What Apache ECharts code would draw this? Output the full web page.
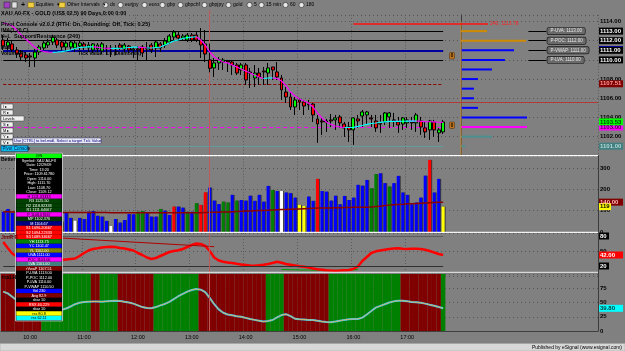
<!DOCTYPE html>
<html><head><meta charset="utf-8">
<script src="https://cdn.jsdelivr.net/npm/echarts@6.0.0/dist/echarts.min.js"></script>
<style>html,body{margin:0;padding:0;background:#808080;}#c{width:625px;height:351px;}</style>
</head><body><div id="c"></div>
<script>
// ---------------- DATA ----------------
const hourLabels = ['10:00','11:00','12:00','13:00','14:00','15:00','16:00','17:00'];
const cursorTime = '13:20';
const openP = [1112.07,1111.45,1111.66,1111.03,1110.72,1110.51,1110.41,1110.20,1110.82,1111.24,
1111.55,1111.86,1112.07,1111.86,1111.34,1111.34,1111.24,1111.45,1111.66,1111.24,
1111.03,1111.14,1110.93,1111.24,1111.14,1111.24,1111.55,1111.14,1111.45,1111.03,
1111.14,1111.34,1111.24,1111.55,1111.24,1111.66,1111.55,1111.86,1112.38,1112.59,
1112.28,1112.07,1112.59,1112.59,1112.07,1111.66,1110.00,1109.16,1109.68,1109.78,
1109.88,1109.78,1109.47,1108.95,1109.47,1108.74,1108.11,1108.63,1108.84,1108.63,
1109.26,1108.74,1108.11,1106.65,1106.13,1105.09,1105.82,1105.61,1105.40,1105.40,
1103.84,1103.63,1103.53,1103.74,1103.74,1104.05,1103.32,1103.01,1102.70,1103.84,
1104.15,1104.26,1103.95,1103.63,1103.43,1103.53,1104.05,1103.74,1103.53,1103.32,
1103.43,1103.53,1103.43,1103.63,1102.91,1102.70,1103.53,1102.39,1102.49];
const closeP = [1111.45,1111.86,1111.03,1110.61,1110.30,1110.20,1110.30,1110.82,1111.34,1111.76,
1111.86,1112.38,1111.55,1111.34,1111.76,1111.86,1111.76,1111.76,1111.34,1111.55,
1111.66,1111.55,1111.66,1111.14,1111.24,1111.14,1111.24,1111.55,1111.03,1111.14,
1111.03,1110.72,1111.14,1111.03,1111.86,1111.24,1111.97,1112.49,1112.90,1112.28,
1112.49,1112.59,1112.07,1112.07,1111.55,1110.61,1109.12,1109.68,1109.99,1109.99,
1109.78,1109.47,1108.63,1109.47,1107.91,1108.63,1108.63,1108.22,1108.74,1109.16,
1108.95,1108.22,1106.86,1106.13,1105.09,1105.82,1105.61,1105.19,1105.30,1104.26,
1103.32,1103.53,1103.63,1103.63,1103.95,1103.43,1102.91,1102.70,1103.95,1103.63,
1104.57,1104.57,1103.84,1102.91,1103.32,1104.47,1104.47,1103.63,1103.22,1103.95,
1103.74,1103.43,1104.26,1103.01,1102.49,1103.63,1102.70,1102.70,1103.53];
const lowP = [1111.03,1111.03,1110.82,1110.20,1109.99,1109.78,1109.26,1109.26,1110.51,1111.03,
1111.24,1111.55,1111.24,1111.03,1110.82,1111.03,1110.82,1111.03,1111.03,1110.82,
1110.72,1110.82,1110.61,1110.51,1110.30,1110.51,1111.03,1110.82,1110.72,1110.20,
1109.99,1110.30,1109.99,1110.72,1110.30,1110.82,1111.24,1111.66,1112.07,1111.97,
1111.97,1111.86,1111.86,1111.86,1110.20,1109.78,1108.70,1108.22,1108.95,1108.95,
1108.74,1108.43,1108.43,1108.43,1107.38,1107.07,1107.17,1107.38,1107.38,1107.38,
1107.91,1107.91,1105.82,1105.51,1104.78,1104.26,1104.78,1104.26,1104.78,1103.53,
1101.35,1102.18,1102.49,1103.01,1102.70,1102.91,1101.97,1101.45,1101.14,1102.91,
1103.01,1103.22,1103.01,1102.49,1102.39,1103.22,1102.91,1103.01,1102.39,1102.70,
1102.91,1102.70,1102.49,1102.18,1101.87,1101.66,1101.97,1101.45,1102.28];
const highP = [1112.59,1112.28,1112.07,1111.34,1111.03,1110.82,1110.72,1111.14,1111.55,1112.07,
1112.18,1112.59,1112.28,1112.07,1112.07,1112.07,1111.97,1112.07,1111.86,1111.86,
1111.76,1111.76,1111.86,1111.55,1111.55,1111.55,1111.76,1111.76,1111.55,1111.34,
1111.45,1111.55,1111.86,1111.76,1111.97,1111.86,1112.28,1112.70,1113.11,1112.90,
1112.70,1112.80,1112.80,1112.90,1113.32,1113.11,1111.70,1110.20,1110.30,1110.20,
1109.99,1109.99,1109.68,1109.68,1109.68,1109.16,1109.47,1109.16,1109.26,1109.68,
1109.26,1109.78,1108.43,1107.17,1106.55,1106.13,1106.03,1105.82,1105.82,1105.51,
1104.26,1103.95,1103.84,1104.36,1104.26,1104.26,1103.53,1103.53,1103.95,1104.26,
1104.78,1104.67,1104.26,1104.26,1104.26,1104.57,1104.57,1104.47,1104.05,1104.05,
1104.05,1104.05,1104.47,1104.05,1103.53,1103.74,1103.74,1102.91,1103.74];
const maLine = [1113.84,1113.74,1113.53,1113.11,1112.59,1112.18,1111.76,1111.34,1111.03,1110.87,
1110.82,1110.79,1110.82,1110.87,1110.93,1111.03,1111.19,1111.29,1111.34,1111.36,
1111.36,1111.32,1111.24,1111.21,1111.19,1111.19,1111.21,1111.24,1111.29,1111.34,
1111.34,1111.29,1111.24,1111.24,1111.29,1111.34,1111.55,1111.76,1111.97,1112.07,
1112.23,1112.33,1112.38,1112.41,1112.07,1111.55,1110.82,1110.30,1109.99,1109.78,
1109.68,1109.47,1109.26,1109.05,1108.84,1108.63,1108.43,1108.22,1108.06,1108.11,
1108.13,1108.06,1107.80,1107.28,1106.65,1106.24,1105.92,1105.72,1105.51,1105.09,
1104.47,1103.94,1103.53,1103.27,1103.11,1103.01,1102.95,1102.95,1102.97,1103.06,
1103.16,1103.27,1103.37,1103.42,1103.48,1103.53,1103.58,1103.60,1103.58,1103.60,
1103.63,1103.61,1103.63,1103.60,1103.57,1103.55,1103.53,1103.50,1103.48];
const pivotLevels = [1113.00, 1112.00, 1111.00, 1110.00];
const pivotNames = ['P-UVA', 'P-POC', 'P-VWAP', 'P-LVA'];
const uvaLevel = 1111.00, vwapLevel = 1107.51, pocLevel = 1103.00, lvaLevel = 1101.00;
const refLevel = 1105.58;
const res240 = 1113.78;
const profilePrices = [1113,1112,1111,1110,1109,1108,1107,1106,1105,1104,1103,1102,1101];
const profileVol = [260,650,530,440,310,170,130,130,170,660,660,310,40];
const profileClass = ['o','o','b','b','b','b','b','b','b','b','m','t','t'];
const volume = [95,108,90,120,85,100,95,130,110,90,
105,80,100,48,89,66,53,66,61,95,
98,76,72,52,28,61,44,56,84,83,
95,98,88,72,72,108,100,80,119,119,
114,95,95,135,127,186,208,147,131,142,
138,174,147,150,147,170,146,174,142,216,
197,192,192,185,182,161,127,122,166,146,
249,192,189,147,170,130,169,150,161,221,
217,244,205,272,275,229,213,229,263,185,
174,130,138,161,264,338,185,249,119];
const volClass = ('bbbbbbbbbbbbb'+'y'+'bb'+'w'+'bbbbbbb'+'w'+'bbbbb'+'gg'+'bbb'+'g'+'bb'+'r'+'bb'+'g'+'b'+'g'+'rr'+'bbb'+'gg'+'b'+'g'+'bbbbbbb'+'g'+'b'+'w'+'bbb'+'yy'+'bb'+'r'+'bbbbbbbbbbb'+'gg'+'bb'+'g'+'bbbbbbbb'+'r'+'bb'+'y').split('');
const volAvg = [95,95,94,94,94,93,93,93,93,92,
92,92,92,92,92,91,91,91,91,91,
91,91,91,91,90,90,90,90,90,90,
90,90,90,90,90,90,90,90,90,90,
90,90,90,90,90,91,92,93,93,94,
94,95,96,97,98,99,100,101,101,102,
103,104,105,106,107,108,108,109,110,111,
112,112,113,113,114,114,115,115,116,116,
116,116,117,119,121,124,126,128,129,130,
132,133,134,135,136,137,138,139,140];
const oscLine = [68,56,45,39,36,34,32,31,30,30,
30,31,32,32,33,34,35,40,46,51,
54,55.4,57,58,58.6,58,56,55,53,51,
46,42,37,34,36,40,44,48,50,51.4,
54,58,62,65,64,60,50,37,31,28.6,
27,26,24.5,23,22,21,20.6,21.5,22.5,24,
26,28.6,26.5,24,22.5,21,19.5,18.6,17,15,
13.4,12.5,11.5,11,10.6,11,11.5,12,14,19,
30,38,46,49.4,51,52.6,54,55,55.4,54.4,
54,54.4,54.6,54,52.4,50,47,44,42];
const oscTrend = [['10:35', 76], ['13:25', 58.6]];
const oscLevels = [80, 20];
const oscGreenStart = 62;
const oscGreenVals = [13,13,12.5,12.5,12,12,12,11.5,11.5,11,11,11,11,11.5,11.5,12,12.5,13];
const rsx = [69,66,60,54,49,45,42,39,37,35,
34,34,35,37,39.5,43,47,49.6,51,51.4,
51.8,51.6,51.4,52,52.6,53.2,52.5,51.2,50,48,
45,42,40.5,39.8,42,45,47.5,51,56,61,
65,69,72,73.7,72.5,68,58,47,38,32,
29,27.5,26,25,23,21,19.5,18,16.5,17.5,
19.3,24,28,29.5,26,21.5,20.5,20,19.5,19.3,
18,16.5,15.8,15.3,16.5,18,19.5,20.5,21,21.1,
23.5,29,35,41,44,47,50,52,53.2,53,
52,51,50.4,49.5,48,46,44.4,42,39.8];
const trendState = ('rrrrrrrrr'+'ggggggggggg'+'rr'+'gggg'+'rrrrrrrr'+'gggggggggg'+'rrrrrrrrrrrrrrr'+'gggg'+'rrrrrrrrrr'+'gggggggggggggggg'+'rrrrrrrrr'+'g').split('');
const stateTop = 100;

// ---------------- BUILD ----------------
const N = openP.length;
const SLOTS = 133;
const times = [];
for (let i = 0; i < SLOTS; i++) { const m = 570 + 5 * i; times.push(Math.floor(m / 60) + ':' + String(m % 60).padStart(2, '0')); }
const FONT = 'Liberation Sans';
const candles = openP.map((o, i) => [o, closeP[i], lowP[i], highP[i]]);
const maUp = new Array(N).fill(null), maDn = new Array(N).fill(null);
for (let i = 1; i < N; i++) { const a = maLine[i] >= maLine[i - 1] ? maUp : maDn; a[i - 1] = maLine[i - 1]; a[i] = maLine[i]; }
const volColors = { b: '#0000ff', g: '#008000', r: '#ff0000', y: '#ffff00', w: '#ffffff' };
const volData = volume.map((v, i) => ({ value: v, itemStyle: { color: volColors[volClass[i]] } }));
const stateData = trendState.map(s => ({ value: stateTop, itemStyle: { color: s === 'g' ? '#008000' : '#800000' } }));
const oscGreen = new Array(N).fill(null);
oscGreenVals.forEach((v, k) => { oscGreen[oscGreenStart + k] = v; });
const profColors = { o: '#d08a00', b: '#0000ff', m: '#ff00ff', t: '#4a9090' };
const profData = profilePrices.map((p, k) => [profileVol[k], p, k]);

const cursorML = { xAxis: cursorTime, lineStyle: { color: '#c05a5a', width: 1, type: 'solid' } };
const mlMain = [];
pivotLevels.forEach(lv => mlMain.push([{ coord: [times[0], lv], lineStyle: { color: '#000', width: 1, type: 'solid' } }, { coord: [times[N - 1], lv] }]));
mlMain.push([{ coord: [times[0], uvaLevel], lineStyle: { color: '#0000a0', width: 2, type: 'solid' } }, { coord: [times[N - 1], uvaLevel] }]);
mlMain.push([{ coord: [times[0], vwapLevel], lineStyle: { color: '#8a0000', width: 1, type: [3, 2] } }, { coord: [times[N - 1], vwapLevel] }]);
mlMain.push([{ coord: [times[0], pocLevel], lineStyle: { color: '#ff00ff', width: 1.2, type: [4, 3] } }, { coord: [times[N - 1], pocLevel] }]);
mlMain.push([{ coord: [times[0], lvaLevel], lineStyle: { color: '#5f9e9e', width: 1, type: 'solid' } }, { coord: [times[N - 1], lvaLevel] }]);
mlMain.push({ yAxis: refLevel, lineStyle: { color: '#b03838', width: 1, type: 'solid' } });
mlMain.push([{ coord: [times[78], res240], lineStyle: { color: '#ff1010', width: 1.5, type: 'solid' },
  label: { show: true, position: 'end', formatter: '240: ' + res240.toFixed(2), color: '#ff2020', fontSize: 5, fontFamily: FONT, distance: 2 } },
  { coord: [times[108], res240] }]);
pivotLevels.forEach((lv, k) => mlMain.push([{ coord: [times[117], lv], lineStyle: { color: '#000', width: 1, type: 'solid' },
  label: { show: true, position: 'end', formatter: pivotNames[k] + ': ' + lv.toFixed(2), fontSize: 4.5, fontFamily: FONT, color: '#e8e8e8',
    backgroundColor: '#6a6a6a', borderColor: '#1a1a1a', borderWidth: 0.7, borderRadius: 1.5, padding: [1, 3, 0.5, 3], distance: 1 } },
  { coord: [times[121], lv] }]));
mlMain.push(cursorML);

const mlOsc = [
  [{ coord: oscTrend[0], lineStyle: { color: '#b00000', width: 1, type: 'solid' } }, { coord: oscTrend[1] }],
  [{ coord: [times[0], oscLevels[0]], lineStyle: { color: '#5c5c5c', width: 1.2, type: 'solid' } }, { coord: [times[N - 1], oscLevels[0]] }],
  [{ coord: [times[0], oscLevels[1]], lineStyle: { color: '#303030', width: 1.2, type: 'solid' } }, { coord: [times[N - 1], oscLevels[1]] }],
  cursorML
];
const mlBase = { symbol: ['none', 'none'], silent: true, animation: false, label: { show: false } };

const L0 = 1, W0 = 597;
const grids = [
  { left: L0, width: W0, top: 14.8, height: 141 },
  { left: L0, width: W0, top: 155.7, height: 76.3 },
  { left: L0, width: W0, top: 233, height: 43 },
  { left: L0, width: W0, top: 274, height: 57 }
];
const isHour = (idx, val) => hourLabels.includes(val);
const xAxes = [0, 1, 2, 3].map(g => ({
  type: 'category', gridIndex: g, data: times, boundaryGap: true,
  axisLine: { show: g === 3, lineStyle: { color: '#404040' } }, axisTick: { show: false },
  axisLabel: { show: g === 3, interval: isHour, fontSize: 5.5, color: '#000', margin: 3, fontFamily: FONT },
  splitLine: { show: g < 3, interval: isHour, lineStyle: { color: '#5a5a5a', type: [1, 2], width: 1 } }
}));
xAxes.push({ type: 'value', gridIndex: 0, min: -4600, max: 1370, show: false });
const yBase = (g, min, max, interval, fmt) => ({
  type: 'value', gridIndex: g, position: 'right', min, max, interval,
  axisLine: { show: true, lineStyle: { color: '#3c3c3c' } }, axisTick: { show: false },
  axisLabel: { formatter: fmt, fontSize: 6, fontWeight: 'bold', color: '#000', margin: 2, fontFamily: FONT, showMaxLabel: false },
  splitLine: { show: true, lineStyle: { color: '#555', type: [1, 3], width: 1 } }
});
const onStep = (v, s) => Math.abs(v / s - Math.round(v / s)) < 1e-6;
const yAxes = [
  yBase(0, 1100, 1114.7, 2, v => (!onStep(v, 2) || v === 1100 || v === 1110 || v === 1112) ? '' : v.toFixed(2)),
  yBase(1, 0, 357.7, 100, v => onStep(v, 100) ? String(v) : ''),
  yBase(2, 0, 86, 50, v => v === 50 ? '50' : ''),
  yBase(3, 0, 100, 25, v => String(v))
];

const chart = echarts.init(document.getElementById('c'), null, { renderer: 'canvas' });
chart.setOption({
  animation: false, backgroundColor: '#808080',
  grid: grids, xAxis: xAxes, yAxis: yAxes,
  series: [
    { type: 'custom', xAxisIndex: 4, yAxisIndex: 0, data: profData, z: 3,
      renderItem: (params, api) => {
        const a = api.coord([0, api.value(1)]), b = api.coord([api.value(0), api.value(1)]);
        return { type: 'rect', shape: { x: a[0], y: a[1] - 1, width: b[0] - a[0], height: 2 }, style: { fill: profColors[profileClass[params.dataIndex]] } };
      } },
    { type: 'line', xAxisIndex: 4, yAxisIndex: 0, data: [[0, 1114], [0, 1100]], showSymbol: false, lineStyle: { color: '#c08830', width: 1 }, z: 3 },
    { type: 'candlestick', xAxisIndex: 0, yAxisIndex: 0, data: candles, barWidth: 3.4, z: 5,
      itemStyle: { color: '#00ff00', color0: '#ff0000', borderColor: '#000', borderColor0: '#000', borderWidth: 1 },
      markLine: Object.assign({}, mlBase, { data: mlMain }) },
    { type: 'line', xAxisIndex: 0, yAxisIndex: 0, data: maDn, showSymbol: false, connectNulls: false, lineStyle: { color: '#ff00ff', width: 1.2 }, z: 6 },
    { type: 'line', xAxisIndex: 0, yAxisIndex: 0, data: maUp, showSymbol: false, connectNulls: false, lineStyle: { color: '#00ffff', width: 1.2 }, z: 6 },
    { type: 'bar', xAxisIndex: 1, yAxisIndex: 1, data: volData, barWidth: 3,
      itemStyle: { shadowColor: '#3a3a3a', shadowOffsetX: 1, shadowBlur: 0 },
      markLine: Object.assign({}, mlBase, { data: [cursorML] }) },
    { type: 'line', xAxisIndex: 1, yAxisIndex: 1, data: volAvg, showSymbol: false, lineStyle: { color: '#8b0000', width: 1.5 } },
    { type: 'line', xAxisIndex: 2, yAxisIndex: 2, data: oscGreen, showSymbol: false, lineStyle: { color: '#00a000', width: 1 } },
    { type: 'line', xAxisIndex: 2, yAxisIndex: 2, data: oscLine, showSymbol: false, lineStyle: { color: '#ff0000', width: 2.5 },
      markLine: Object.assign({}, mlBase, { data: mlOsc }) },
    { type: 'bar', xAxisIndex: 3, yAxisIndex: 3, data: stateData, barWidth: '100%', barCategoryGap: '0%' },
    { type: 'line', xAxisIndex: 3, yAxisIndex: 3, data: rsx, showSymbol: false, lineStyle: { color: '#30c8ff', width: 2 },
      markLine: Object.assign({}, mlBase, { data: [cursorML] }) },
    { type: 'line', xAxisIndex: 3, yAxisIndex: 3, data: rsx, showSymbol: false, lineStyle: { color: '#ffb040', width: 0.8 } }
  ]
});

// ---------------- OVERLAY GRAPHICS ----------------
const G = [];
const R = (x, y, w, h, fill, stroke, lw, r) => G.push({ type: 'rect', z: 100, shape: { x, y, width: w, height: h, r: r || 0 }, style: { fill, stroke: stroke || null, lineWidth: lw || 0.6 } });
const T = (x, y, text, font, fill, align) => G.push({ type: 'text', z: 101, x, y, style: { text, font, fill, textAlign: align || 'left', textVerticalAlign: 'middle', verticalAlign: 'middle' } });
const Ln = (x1, y1, x2, y2, color, w) => G.push({ type: 'line', z: 99, shape: { x1, y1, x2, y2 }, style: { stroke: color, lineWidth: w || 1 } });
const fb = s => 'bold ' + s + 'px "' + FONT + '"';
const fn = s => s + 'px "' + FONT + '"';

// toolbar
R(4, 2, 6, 6, '#a040c0', '#202020', 0.5); R(12, 2, 5, 6, '#e0e0e0', '#202020', 0.5);
T(21, 5, '+', fb(7), '#000');
R(28, 2.5, 6, 5, '#f0d040', '#806000', 0.5); T(36, 5, 'Equities  ▾', fn(5), '#000');
R(59, 2.5, 6, 5, '#f0d040', '#806000', 0.5); T(67, 5, 'Other Intervals  ▾', fn(5), '#000');
[[103, 'dx'], [118, 'eurjpy'], [142, 'euro'], [160, 'gbp'], [178, 'gbpchf'], [202, 'gbpjpy'], [226, 'gold'], [247, '5'], [259, '15 min'], [283, '60'], [299, '180']]
  .forEach(([x, t]) => { G.push({ type: 'circle', z: 100, shape: { cx: x + 2.5, cy: 5, r: 2.6 }, style: { fill: '#e8e8e8', stroke: '#202020', lineWidth: 0.6 } }); T(x + 7, 5, t, fn(5), '#000'); });
// titles
T(1, 13, 'XAU A0-FX - GOLD (US$ 02.5) 90 Days,0:00 0:00', fb(5.5), '#000');
T(1, 24.5, 'Pivot Console v2.0.2 (RTH: On, Rounding: Off, Tick: 0.25)', fb(5.5), '#000');
T(1, 30.5, 'IMA(1,20,C)', fb(5), '#000');
T(1, 36.5, 'H+L', fb(5), '#000'); T(14, 36.5, 'Support/Resistance (240)', fb(5.5), '#000');
T(1, 48, 'Hull', fb(5), '#000');
T(1, 54, 'Volume Pr', fb(5), '#000'); T(78, 54, 'Tick Value: 1.0 (Diamonds)', fb(5), '#000');
// left buttons
[[104, 'I ▸'], [110, 'R ▸'], [122, 'S ▸'], [128, 'M ▸'], [134, 'Y ▸'], [140, 'V ▸']].forEach(([y, t]) => { R(1, y, 12, 5, '#f0f0f0', '#404040', 0.5); T(3, y + 2.6, t, fn(4), '#000'); });
R(1, 116, 23, 5, '#f0f0f0', '#404040', 0.5); T(3, 118.6, 'Levels', fn(4), '#000');
R(13, 138, 88, 5.5, '#e8e8f4', '#303060', 0.5); T(14, 140.8, 'Use [CTRL] to bel.midl. Select a target Tick Value', fn(4), '#000080');
R(1, 145.8, 27, 5.5, '#10c8ff', '#003050', 0.6); T(2.5, 148.6, 'Pivot Console', fn(4.5), '#001030');
// "8" markers
[52.5, 122].forEach(y => { R(449.5, y, 5, 6.5, '#c07820', '#503010', 0.6, 1); T(452, y + 3.3, '8', fb(4.5), '#201000', 'center'); });
// panel titles
T(1, 160, 'Better', fb(5), '#000');
T(1, 237.5, 'JimR R', fb(5), '#800000');
T(2, 277.5, 'rsxLH', fb(5), '#000');
// separators
Ln(0, 155.7, 598, 155.7, '#ffffff', 1.2);
Ln(0, 232.4, 598, 232.4, '#f4f4f4', 1.2);
Ln(0, 272.4, 598, 272.4, '#d8d8d8', 1.2);
// data window
const rows = [
  ['@N', '#00ff00', '#000'], ['Symbol: XAU A0-FX', '#000', '#fff'], ['Date: 12/29/09', '#000', '#fff'], ['Time: 13:20', '#000', '#fff'],
  ['Price: 1109.61780', '#000', '#fff'], ['Open: 1110.00', '#000', '#fff'], ['High: 1111.70', '#000', '#fff'], ['Low: 1108.70', '#000', '#fff'],
  ['Close: 1109.12', '#000', '#fff'], ['H 1111.03333', '#ff00ff', '#000'], ['R3 1125.50', '#004000', '#fff'], ['R2 1118.82333', '#004000', '#fff'],
  ['R1 1111.64667', '#004000', '#fff'], ['P 1108.07667', '#ff00ff', '#000'], ['MP 1102.376', '#003000', '#fff'], ['M 1104.67', '#000080', '#fff'],
  ['S1 1096.20667', '#ff0000', '#fff'], ['S2 1094.22333', '#ff0000', '#fff'], ['S3 1089.34667', '#ff0000', '#fff'], ['YH 1113.75', '#008000', '#fff'],
  ['YC 1102.47', '#0000ff', '#fff'], ['YL 1102.00', '#808000', '#fff'], ['UVA 1111.00', '#0000ff', '#fff'], ['POC 1103.00', '#ff00ff', '#000'],
  ['LVA 1101.00', '#408080', '#fff'], ['rVwaP 1107.51', '#800000', '#fff'], ['P-UVA 1113.00', '#000', '#fff'], ['P-POC 1112.00', '#000', '#fff'],
  ['P-LVA 1110.00', '#000', '#fff'], ['P-VWAP 1110.50', '#000', '#fff'], ['Vol 230', '#0000ff', '#fff'], ['Avg 82.9', '#800000', '#fff'],
  ['sbar 10', '#000', '#fff'], ['RSX 40.229', '#ff0000', '#fff'], ['sbar 10', '#000', '#fff'], ['rsx 80.8', '#ffff00', '#000'], ['rsx 62.11', '#00ffff', '#000']
];
const RY0 = 153.8, RH = 4.5;
R(15.5, RY0 - 0.6, 47, rows.length * RH + 1.2, '#000', '#e0e0e0', 0.8);
rows.forEach(([t, bg, fg], k) => { R(16.3, RY0 + k * RH, 45.4, RH, bg); T(39, RY0 + k * RH + RH / 2, t, fn(3.8), fg, 'center'); });
// status bar
R(0, 343.5, 625, 7.5, '#d8d8d8', '#a0a0a0', 0.5);
T(622, 347.3, 'Published by eSignal (www.esignal.com)', fn(5), '#000', 'right');

// value boxes on the right axes, placed through the axes' own scales
const last = N - 1;
const boxes = [
  ...pivotLevels.map(v => [0, v, v.toFixed(2), '#000', '#fff']),
  [0, vwapLevel, vwapLevel.toFixed(2), '#800000', '#ff9a9a'],
  [0, pocLevel, pocLevel.toFixed(2), '#ff00ff', '#500050'],
  [0, closeP[last], closeP[last].toFixed(2), '#00ff00', '#004000'],
  [0, lvaLevel, lvaLevel.toFixed(2), '#408080', '#b8d8d8'],
  [1, volAvg[last], volAvg[last].toFixed(2), '#800000', '#ffb8b8'],
  [1, volume[last], String(volume[last]), '#ffff00', '#000', 12],
  [2, oscLevels[0], String(oscLevels[0]), '#000', '#fff', 10],
  [2, oscLevels[1], String(oscLevels[1]), '#000', '#fff', 10],
  [2, oscLine[last], oscLine[last].toFixed(2), '#ff0000', '#fff'],
  [3, rsx[last], rsx[last].toFixed(2), '#00ffff', '#004040']
];
boxes.forEach(([ax, v, t, bg, fg, w]) => {
  const y = chart.convertToPixel({ yAxisIndex: ax }, v);
  R(599, y - 3.5, w || 24, 7, bg);
  T(600, y, t, fb(6), fg);
});
Ln(599, chart.convertToPixel({ yAxisIndex: 0 }, uvaLevel) - 3.8, 623, chart.convertToPixel({ yAxisIndex: 0 }, uvaLevel) - 3.8, '#0000c0', 1);
const cx = chart.convertToPixel({ xAxisIndex: 0 }, cursorTime);
Ln(cx, 10, cx, 15, '#c05a5a', 1);
chart.setOption({ graphic: G });
</script></body></html>
